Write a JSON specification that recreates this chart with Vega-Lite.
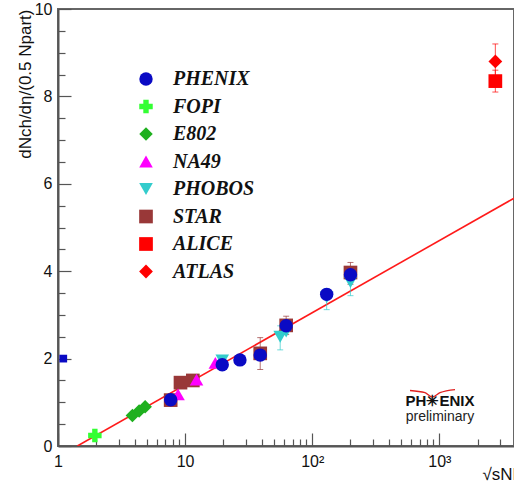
{
  "$schema": "https://vega.github.io/schema/vega-lite/v6.json",
  "width": 456,
  "height": 437,
  "autosize": {"type": "none"},
  "padding": {"left": 58, "top": 9, "right": 0, "bottom": 47},
  "config": {
    "font": "Liberation Sans",
    "view": {"stroke": "#666", "strokeWidth": 2}
  },
  "datasets": {
    "pts": [
      {"s": "STAR", "x": 7.7, "y": 1.05},
      {"s": "STAR", "x": 9.2, "y": 1.45},
      {"s": "STAR", "x": 11.5, "y": 1.5},
      {"s": "STAR", "x": 39, "y": 2.12},
      {"s": "STAR", "x": 62.4, "y": 2.76},
      {"s": "STAR", "x": 200, "y": 3.97},
      {"s": "NA49", "x": 8.8, "y": 1.18},
      {"s": "NA49", "x": 12.3, "y": 1.52},
      {"s": "NA49", "x": 17.3, "y": 1.9},
      {"s": "PHOBOS", "x": 19.6, "y": 1.96},
      {"s": "PHOBOS", "x": 56, "y": 2.5},
      {"s": "PHOBOS", "x": 62.4, "y": 2.62},
      {"s": "PHOBOS", "x": 130, "y": 3.4},
      {"s": "PHOBOS", "x": 200, "y": 3.75},
      {"s": "E802", "x": 3.85, "y": 0.7},
      {"s": "E802", "x": 4.35, "y": 0.8},
      {"s": "E802", "x": 4.85, "y": 0.9},
      {"s": "FOPI", "x": 1.95, "y": 0.24},
      {"s": "PHENIX", "x": 7.7, "y": 1.06},
      {"s": "PHENIX", "x": 19.6, "y": 1.86},
      {"s": "PHENIX", "x": 27, "y": 1.97},
      {"s": "PHENIX", "x": 39, "y": 2.08},
      {"s": "PHENIX", "x": 62.4, "y": 2.75},
      {"s": "PHENIX", "x": 130, "y": 3.47},
      {"s": "PHENIX", "x": 200, "y": 3.92},
      {"s": "ALICE", "x": 2760, "y": 8.35},
      {"s": "ATLAS", "x": 2760, "y": 8.8}
    ],
    "err": [
      {"s": "STAR", "x": 39, "y": 1.75, "y2": 2.48},
      {"s": "STAR", "x": 62.4, "y": 2.55, "y2": 2.97},
      {"s": "STAR", "x": 200, "y": 3.7, "y2": 4.2},
      {"s": "PHOBOS", "x": 56, "y": 2.2, "y2": 2.75},
      {"s": "PHOBOS", "x": 130, "y": 3.12, "y2": 3.6},
      {"s": "PHOBOS", "x": 200, "y": 3.44, "y2": 3.95},
      {"s": "ALICE", "x": 2760, "y": 8.1, "y2": 8.6},
      {"s": "ATLAS", "x": 2760, "y": 8.4, "y2": 9.2}
    ],
    "fit": [
      {"x": 1.42, "y": 0},
      {"x": 3870, "y": 5.67}
    ],
    "stray": [
      {"x": 1.1, "y": 2.0}
    ],
    "wing": [
      {"x": 588, "y": 1.27},
      {"x": 772, "y": 1.22},
      {"x": 877, "y": 1.12},
      {"x": 1013, "y": 1.22},
      {"x": 1330, "y": 1.29}
    ],
    "logo1": [{"x": 1012, "y": 0.92, "t": "PH✳ENIX"}],
    "logo2": [{"x": 1012, "y": 0.57, "t": "preliminary"}]
  },
  "encoding": {
    "x": {
      "field": "x",
      "type": "quantitative",
      "scale": {"type": "log", "domain": [1, 3870], "nice": false},
      "axis": {
        "title": "√sNN (GeV)",
        "titleFont": "Liberation Sans",
        "titleFontSize": 17,
        "titleFontWeight": "normal",
        "titleColor": "#111",
        "titleAnchor": "start",
        "titleAlign": "left",
        "titleBaseline": "alphabetic",
        "titleX": 424,
        "titleY": 33,
        "values": [1, 2, 3, 4, 5, 6, 7, 8, 9, 10, 20, 30, 40, 50, 60, 70, 80, 90, 100, 200, 300, 400, 500, 600, 700, 800, 900, 1000, 2000, 3000],
        "labelExpr": "datum.value == 1 ? '1' : datum.value == 10 ? '10' : datum.value == 100 ? '10²' : datum.value == 1000 ? '10³' : ''",
        "labelFlush": false,
        "labelFont": "Liberation Sans",
        "labelFontSize": 16,
        "labelColor": "#111",
        "labelPadding": 28,
        "labelBaseline": "middle",
        "labelOverlap": false,
        "tickSize": {"condition": {"test": "indexof([1,10,100,1000], datum.value) >= 0", "value": -13}, "value": -7},
        "tickColor": "#555",
        "tickWidth": 1.2,
        "domainColor": "#555",
        "domainWidth": 2,
        "grid": false
      }
    },
    "y": {
      "field": "y",
      "type": "quantitative",
      "scale": {"domain": [0, 10], "nice": false},
      "axis": {
        "title": "dNch/dη/(0.5 Npart)",
        "titleFont": "Liberation Sans",
        "titleFontSize": 17,
        "titleFontWeight": "normal",
        "titleColor": "#111",
        "titleAngle": -90,
        "titleAlign": "right",
        "titleBaseline": "middle",
        "titleX": -33,
        "titleY": 0,
        "values": [0, 0.5, 1, 1.5, 2, 2.5, 3, 3.5, 4, 4.5, 5, 5.5, 6, 6.5, 7, 7.5, 8, 8.5, 9, 9.5, 10],
        "labelExpr": "datum.value % 2 === 0 ? format(datum.value, 'd') : ''",
        "labelFont": "Liberation Sans",
        "labelFontSize": 16,
        "labelColor": "#111",
        "labelPadding": 19,
        "labelOverlap": false,
        "tickSize": {"condition": {"test": "datum.value % 2 === 0", "value": -13}, "value": -7},
        "tickColor": "#555",
        "tickWidth": 1.2,
        "domainColor": "#555",
        "domainWidth": 2,
        "grid": false
      }
    }
  },
  "layer": [
    {
      "data": {"name": "fit"},
      "mark": {"type": "line", "color": "#ff1a1a", "strokeWidth": 1.6, "clip": true},
      "encoding": {}
    },
    {
      "data": {"name": "err"},
      "mark": {"type": "rule", "strokeWidth": 1, "opacity": 0.7},
      "encoding": {
        "y2": {"field": "y2"},
        "color": {"field": "s", "type": "nominal"}
      }
    },
    {
      "data": {"name": "err"},
      "mark": {"type": "tick", "orient": "horizontal", "size": 6, "thickness": 1, "opacity": 0.7},
      "encoding": {
        "color": {"field": "s", "type": "nominal"}
      }
    },
    {
      "data": {"name": "err"},
      "mark": {"type": "tick", "orient": "horizontal", "size": 6, "thickness": 1, "opacity": 0.7},
      "encoding": {
        "y": {"field": "y2", "type": "quantitative"},
        "color": {"field": "s", "type": "nominal"}
      }
    },
    {
      "data": {"name": "pts"},
      "mark": {"type": "point", "filled": true, "opacity": 1, "strokeWidth": 0},
      "encoding": {
        "color": {
          "field": "s",
          "type": "nominal",
          "scale": {
            "domain": ["PHENIX", "FOPI", "E802", "NA49", "PHOBOS", "STAR", "ALICE", "ATLAS"],
            "range": ["#0a0ac4", "#33ff33", "#1fb01f", "#ff00ff", "#33cccc", "#993838", "#ff0000", "#ff0000"]
          },
          "legend": {
            "title": null,
            "orient": "none",
            "legendX": 78,
            "legendY": 60,
            "padding": 0,
            "labelFont": "Liberation Serif",
            "labelFontStyle": "italic",
            "labelFontWeight": "bold",
            "labelFontSize": 20,
            "labelColor": "#111",
            "labelOffset": 17,
            "symbolSize": 190,
            "symbolOpacity": 1,
            "rowPadding": 7.5,
            "symbolStrokeWidth": 0,
            "encode": {"symbols": {"update": {"opacity": {"value": 1}, "fillOpacity": {"value": 1}}}}
          }
        },
        "shape": {
          "field": "s",
          "type": "nominal",
          "scale": {
            "domain": ["PHENIX", "FOPI", "E802", "NA49", "PHOBOS", "STAR", "ALICE", "ATLAS"],
            "range": ["circle", "cross", "diamond", "triangle-up", "triangle-down", "square", "square", "diamond"]
          },
          "legend": {
            "title": null,
            "orient": "none",
            "legendX": 78,
            "legendY": 60,
            "padding": 0,
            "labelFont": "Liberation Serif",
            "labelFontStyle": "italic",
            "labelFontWeight": "bold",
            "labelFontSize": 20,
            "labelColor": "#111",
            "labelOffset": 17,
            "symbolSize": 190,
            "symbolOpacity": 1,
            "rowPadding": 7.5,
            "symbolStrokeWidth": 0,
            "encode": {"symbols": {"update": {"opacity": {"value": 1}, "fillOpacity": {"value": 1}}}}
          }
        },
        "size": {
          "field": "s",
          "type": "nominal",
          "legend": null,
          "scale": {
            "domain": ["PHENIX", "FOPI", "E802", "NA49", "PHOBOS", "STAR", "ALICE", "ATLAS"],
            "range": [180, 190, 230, 260, 260, 200, 170, 230]
          }
        }
      }
    },
    {
      "data": {"name": "stray"},
      "mark": {"type": "square", "size": 60, "opacity": 1, "color": "#0a0ac4"},
      "encoding": {}
    },
    {
      "data": {"name": "wing"},
      "mark": {"type": "line", "strokeWidth": 1.3, "interpolate": "monotone", "color": "#e02020"},
      "encoding": {}
    },
    {
      "data": {"name": "logo1"},
      "mark": {"type": "text", "font": "Liberation Sans", "fontWeight": "bold", "fontSize": 15, "baseline": "alphabetic", "align": "center", "color": "#111"},
      "encoding": {"text": {"field": "t"}}
    },
    {
      "data": {"name": "logo2"},
      "mark": {"type": "text", "font": "Liberation Sans", "fontSize": 14, "baseline": "alphabetic", "align": "center", "color": "#222"},
      "encoding": {"text": {"field": "t"}}
    }
  ]
}
